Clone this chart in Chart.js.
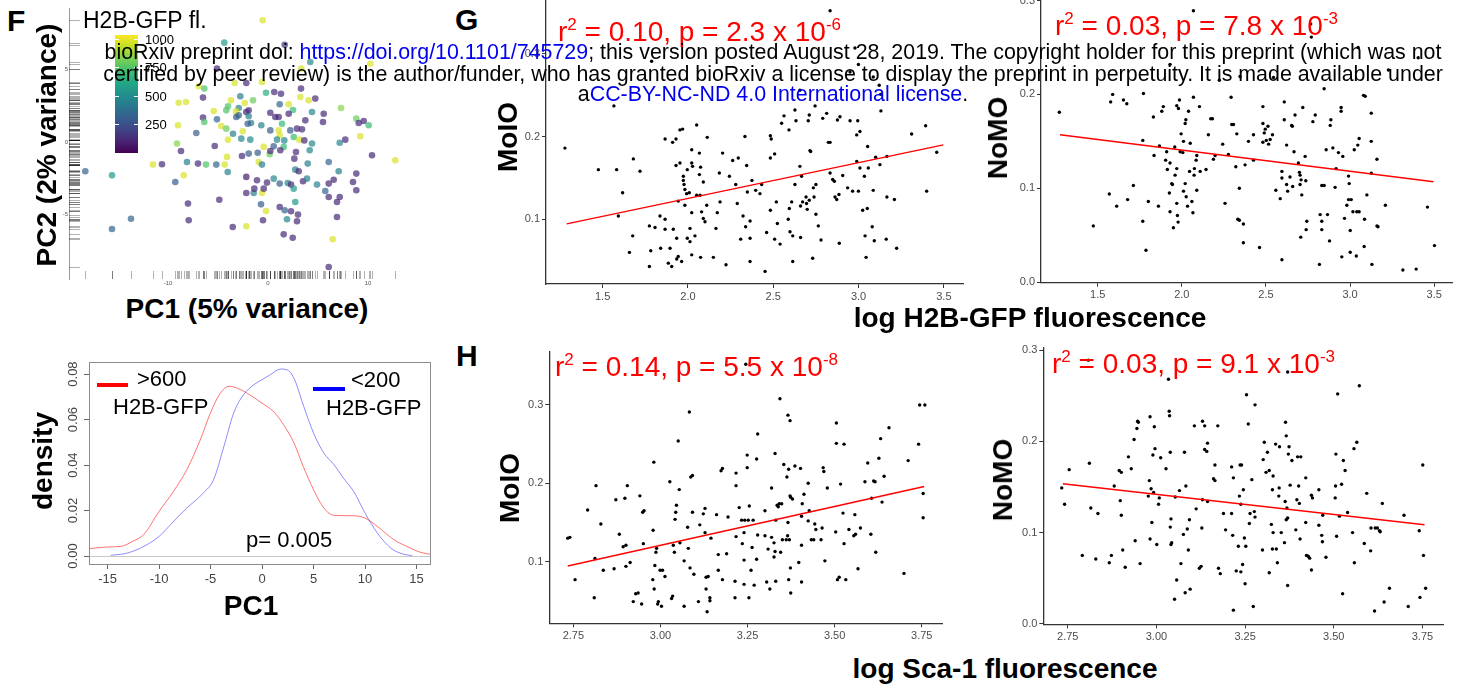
<!DOCTYPE html>
<html>
<head>
<meta charset="utf-8">
<script src="https://cdn.jsdelivr.net/npm/chart.js@4.4.0/dist/chart.umd.min.js"></script>
<style>
body { margin: 0; width: 1465px; height: 688px; background: #fff; position: relative; overflow: hidden;
       font-family: "Liberation Sans", Arial, sans-serif; }
.t { position: absolute; white-space: nowrap; line-height: 1; z-index: 2; color: #000; }
.b { font-weight: bold; }
.mid { transform: translate(-50%, -50%); }
.rot { transform: translate(-50%, -50%) rotate(-90deg); }
.red { color: #ff0000; font-size: 28px; }
.red span { font-size: 17px; vertical-align: 11px; }
.blue { color: #0000ee; }
.leg { position: absolute; height: 4px; z-index: 2; }
</style>
</head>
<body>

<!-- panel letters -->
<div class="t b" style="left:7px;top:6px;font-size:30px">F</div>
<div class="t b" style="left:455px;top:5px;font-size:30px">G</div>
<div class="t b" style="left:456px;top:341px;font-size:30px">H</div>

<!-- F: PCA -->
<div class="t" style="left:83px;top:9px;font-size:23px">H2B-GFP fl.</div>
<div id="colorbar" style="position:absolute;left:115px;top:35px;width:23px;height:118px;z-index:1"></div>
<div class="t b rot" style="left:47px;top:145px;font-size:28px">PC2 (2% variance)</div>
<div class="t b mid" style="left:247px;top:309px;font-size:28px">PC1 (5% variance)</div>

<!-- F: density -->
<div class="leg" style="left:97px;top:383px;width:31px;background:#ff0000"></div>
<div class="t" style="left:137px;top:368px;font-size:22px">&gt;600</div>
<div class="t" style="left:113px;top:396px;font-size:22px">H2B-GFP</div>
<div class="leg" style="left:313px;top:387px;width:32px;background:#0000ff"></div>
<div class="t" style="left:351px;top:369px;font-size:22px">&lt;200</div>
<div class="t" style="left:326px;top:397px;font-size:22px">H2B-GFP</div>
<div class="t" style="left:246px;top:529px;font-size:22px">p= 0.005</div>
<div class="t b rot" style="left:43px;top:461px;font-size:28px">density</div>
<div class="t b mid" style="left:251px;top:606px;font-size:28px">PC1</div>

<!-- G / H titles -->
<div class="t red" style="left:558px;top:16px">r<span>2</span> = 0.10, p = 2.3 x 10<span>-6</span></div>
<div class="t red" style="left:1055px;top:10px">r<span>2</span> = 0.03, p = 7.8 x 10<span>-3</span></div>
<div class="t red" style="left:555px;top:351px">r<span>2</span> = 0.14, p = 5.5 x 10<span>-8</span></div>
<div class="t red" style="left:1052px;top:348px">r<span>2</span> = 0.03, p = 9.1 x 10<span>-3</span></div>
<div class="t b rot" style="left:508px;top:137px;font-size:28px">MoIO</div>
<div class="t b rot" style="left:998px;top:138px;font-size:28px">NoMO</div>
<div class="t b rot" style="left:510px;top:488px;font-size:28px">MoIO</div>
<div class="t b rot" style="left:1003px;top:480px;font-size:28px">NoMO</div>
<div class="t b mid" style="left:1030px;top:318px;font-size:28px">log H2B-GFP fluorescence</div>
<div class="t b mid" style="left:1005px;top:669px;font-size:28px">log Sca-1 fluorescence</div>

<!-- preprint stamp -->
<div class="t hdr" data-base="60">bioRxiv preprint doi: <span class="blue">https://doi.org/10.1101/745729</span>; this version posted August 28, 2019. The copyright holder for this preprint (which was not</div>
<div class="t hdr" data-base="82">certified by peer review) is the author/funder, who has granted bioRxiv a license to display the preprint in perpetuity. It is made available under</div>
<div class="t hdr" data-base="102">a<span class="blue">CC-BY-NC-ND 4.0 International license</span>.</div>

<script>
// --- datos ---

// PCA: [PC1, PC2, H2B-GFP fl.]
const pcaPoints = [
  [-0.53,8.39,980],[-4.37,6.85,560],[1.67,6.71,150],[4.23,5.52,480],[10.23,5.40,980],[-5.1,5.06,120],
  [3.33,5.06,980],[-0.6,4.14,980],[-3.33,4.07,980],[-2.17,4.07,120],[0.63,3.45,120],[1.3,3.33,120],
  [-0.2,3.40,650],[-6.93,3.84,980],[-6.37,3.68,750],[-6.5,3.06,120],[3.3,3.68,120],[3.23,3.10,980],
  [4.07,2.87,980],[4.73,2.99,120],[-2.77,3.15,450],[-3.7,2.87,980],[-1.5,2.87,800],[-2.33,2.69,980],
  [2.07,2.60,980],[1.17,2.60,330],[-8.93,2.71,980],[-8.2,2.76,980],[-5.43,2.14,980],[-4.0,2.46,750],
  [-4.17,2.18,750],[-2.93,2.34,450],[-1.93,2.18,120],[-2.17,2.07,120],[-3.2,2.11,980],[2.5,2.21,700],
  [4.4,2.07,480],[7.3,2.34,850],[-6.5,1.68,120],[-6.37,1.38,750],[-5.1,1.56,330],[-3.17,1.72,300],
  [-2.93,1.84,300],[-1.93,1.77,450],[0.23,2.02,120],[0.73,1.72,120],[1.07,1.72,120],[2.07,1.95,120],
  [5.57,1.95,120],[3.73,1.49,120],[5.5,1.38,120],[8.83,1.61,800],[9.07,1.31,120],[9.57,1.45,120],
  [10.07,1.15,700],[9.23,0.39,980],[-9.0,1.15,980],[-4.67,1.10,980],[-4.17,0.92,800],[-3.5,0.57,450],
  [-2.53,0.74,980],[-1.7,1.31,450],[-2.03,1.26,300],[-0.67,1.15,450],[1.4,1.26,700],[-7.17,0.62,300],
  [0.23,0.80,300],[1.07,0.80,980],[1.17,0.46,980],[2.23,0.80,300],[2.9,0.92,120],[3.4,0.87,120],
  [2.57,0.34,700],[3.13,0.16,980],[3.63,0.11,120],[1.63,0.11,480],[0.9,0.16,480],[-2.67,0.23,480],
  [-4.0,0.16,980],[-1.77,0.16,480],[-9.1,-0.11,850],[-8.7,-0.62,120],[-5.33,-0.28,120],[-0.43,-0.34,980],
  [0.57,-0.30,300],[1.57,-0.34,700],[1.23,-0.57,120],[0.17,-0.85,800],[0.23,-0.62,120],[4.4,-0.11,480],
  [4.17,-0.57,480],[2.8,-0.69,120],[7.17,-0.05,480],[7.73,0.16,120],[10.4,-0.92,120],[12.73,-1.26,980],
  [-2.6,-0.97,120],[-1.93,-0.80,300],[-1.03,-0.74,300],[-4.1,-1.03,980],[2.63,-1.15,120],[-11.5,-1.56,980],
  [-10.6,-1.54,120],[-8.1,-1.38,450],[-7.0,-1.49,120],[-6.2,-1.56,750],[-5.17,-1.56,330],[-4.33,-1.56,980],
  [-4.03,-2.07,450],[-0.93,-1.38,980],[-0.6,-1.56,450],[3.97,-1.49,450],[6.07,-1.38,330],[-18.27,-2.02,330],
  [-15.6,-2.30,560],[-8.43,-2.30,980],[-9.27,-2.76,300],[-2.17,-2.41,80],[-1.1,-2.64,120],[-0.1,-2.80,120],
  [0.57,-2.53,480],[1.17,-2.87,300],[1.97,-2.83,480],[2.3,-2.94,120],[2.73,-1.91,450],[3.07,-2.02,120],
  [3.5,-2.71,120],[3.9,-2.53,450],[4.9,-2.94,450],[6.07,-2.87,120],[6.57,-2.60,120],[7.07,-2.02,450],
  [8.5,-2.76,120],[8.83,-2.18,120],[8.83,-3.33,120],[5.73,-3.38,330],[6.07,-3.79,120],[7.17,-3.79,120],
  [6.9,-4.14,120],[-2.17,-3.52,120],[-1.43,-3.52,450],[-1.37,-3.22,120],[-0.6,-3.52,980],[-0.43,-3.22,120],
  [2.57,-3.22,560],[-8.0,-4.25,120],[-4.87,-3.98,120],[-0.7,-4.30,300],[1.17,-4.48,120],[1.67,-4.71,330],
  [2.73,-4.14,560],[2.3,-4.78,120],[3.0,-5.01,120],[2.9,-5.47,120],[1.9,-5.33,480],[-0.2,-4.76,980],
  [-0.5,-5.40,120],[-7.93,-5.40,120],[-13.7,-5.29,330],[-15.6,-6.0,330],[-3.53,-5.86,120],[-2.17,-5.82,980],
  [1.57,-6.37,120],[2.47,-6.60,120],[6.9,-5.17,120],[6.47,-6.71,980],[6.07,-8.62,120]
];
const pcaXTicks = [-10, 0, 10];
const pcaYTicks = [-5, 0, 5];
const flMax = 1040;
const flTicks = [250, 500, 750, 1000];

// densidad de PC1
const densHigh = [
  [-16.8,0.0032],[-15,0.004],[-13.75,0.0042],[-12.5,0.0066],[-11.5,0.0094],[-10,0.0196],[-8.6,0.0284],
  [-7.3,0.038],[-6,0.051],[-5,0.063],[-4.05,0.0716],[-3.2,0.0746],[-2.4,0.0738],[-1.45,0.0716],[0,0.0672],
  [1.1,0.0636],[2.1,0.0577],[3.1,0.0497],[4,0.0394],[5,0.0292],[6,0.0211],[7,0.0179],[8.9,0.0177],
  [10,0.0167],[11.2,0.013],[12.8,0.0072],[14.4,0.0035],[15.4,0.0016],[16.3,0.0008]
];
const densLow = [
  [-14.7,0.0003],[-13.1,0.0013],[-11.5,0.0042],[-10,0.0086],[-8.6,0.0152],[-7.3,0.0211],[-5.7,0.0277],
  [-4.7,0.0336],[-3.7,0.0482],[-2.75,0.0629],[-1.8,0.0709],[-0.8,0.0753],[0,0.0775],[0.8,0.0797],
  [1.8,0.0822],[2.4,0.0819],[3.1,0.0782],[4.05,0.0658],[5,0.0541],[6,0.0453],[7,0.0401],[7.9,0.0343],
  [8.9,0.0284],[10,0.0189],[11.2,0.0101],[12.5,0.0035],[13.4,0.0013],[14.6,0.0001]
];
const densXTicks = [-15, -10, -5, 0, 5, 10, 15];
const densYTicks = [0, 0.02, 0.04, 0.06, 0.08];

// G: log H2B-GFP vs MoIO / NoMO
const gfpMoIO = [
  [1.279,0.186],[1.475,0.160],[1.582,0.160],[1.617,0.132],[1.592,0.104],[1.680,0.173],[1.719,0.158],[1.676,0.080],
  [1.657,0.060],[1.566,0.237],[1.774,0.092],[1.807,0.090],[1.782,0.062],[1.774,0.043],[1.836,0.104],[1.866,0.100],
  [1.866,0.088],[1.840,0.065],[1.866,0.197],[1.895,0.065],[1.885,0.047],[1.905,0.043],[1.914,0.088],[1.910,0.193],
  [1.930,0.197],[1.930,0.165],[1.934,0.077],[1.934,0.052],[1.953,0.208],[1.969,0.209],[1.953,0.168],[1.943,0.122],
  [1.943,0.055],[1.963,0.049],[1.973,0.152],[1.973,0.147],[1.977,0.142],[1.982,0.136],[1.982,0.117],[1.992,0.131],
  [1.996,0.160],[2.008,0.132],[2.012,0.089],[1.996,0.077],[2.012,0.073],[2.022,0.184],[2.022,0.168],[2.027,0.164],
  [2.022,0.108],[2.022,0.057],[2.041,0.080],[2.051,0.214],[2.051,0.129],[2.067,0.180],[2.067,0.154],[2.071,0.129],
  [2.074,0.054],[2.074,0.163],[2.080,0.109],[2.090,0.145],[2.090,0.101],[2.100,0.097],[2.110,0.117],[2.113,0.199],
  [2.149,0.054],[2.164,0.089],[2.172,0.108],[2.184,0.156],[2.188,0.121],[2.203,0.180],[2.223,0.045],[2.243,0.152],
  [2.262,0.171],[2.280,0.142],[2.295,0.174],[2.289,0.119],[2.309,0.076],[2.323,0.104],[2.334,0.200],[2.338,0.091],
  [2.344,0.165],[2.348,0.133],[2.364,0.098],[2.364,0.077],[2.364,0.049],[2.375,0.147],[2.397,0.135],[2.422,0.131],
  [2.432,0.142],[2.452,0.037],[2.461,0.084],[2.483,0.201],[2.483,0.174],[2.488,0.197],[2.483,0.111],[2.508,0.179],
  [2.508,0.076],[2.518,0.121],[2.524,0.095],[2.540,0.070],[2.549,0.216],[2.563,0.225],[2.588,0.100],[2.592,0.208],
  [2.594,0.113],[2.598,0.085],[2.608,0.121],[2.614,0.080],[2.614,0.049],[2.627,0.232],[2.627,0.142],[2.633,0.219],
  [2.656,0.164],[2.660,0.116],[2.660,0.078],[2.666,0.152],[2.672,0.121],[2.692,0.127],[2.695,0.119],[2.699,0.112],
  [2.705,0.219],[2.711,0.123],[2.711,0.226],[2.715,0.183],[2.719,0.182],[2.731,0.053],[2.735,0.138],[2.739,0.127],
  [2.745,0.237],[2.750,0.142],[2.750,0.106],[2.764,0.092],[2.780,0.075],[2.790,0.222],[2.813,0.228],[2.823,0.193],
  [2.833,0.193],[2.833,0.156],[2.848,0.148],[2.858,0.146],[2.862,0.127],[2.872,0.124],[2.876,0.220],[2.887,0.071],
  [2.891,0.224],[2.885,0.130],[2.907,0.153],[2.936,0.138],[2.950,0.219],[2.965,0.134],[2.989,0.202],[2.989,0.170],
  [2.995,0.219],[2.999,0.134],[3.008,0.206],[3.008,0.162],[3.024,0.111],[3.034,0.152],[3.038,0.080],[3.044,0.054],
  [3.051,0.113],[3.053,0.188],[3.057,0.162],[3.080,0.091],[3.086,0.135],[3.092,0.074],[3.100,0.175],[3.125,0.166],
  [3.131,0.231],[3.162,0.076],[3.166,0.127],[3.166,0.176],[3.210,0.124],[3.223,0.065],[3.311,0.203],[3.393,0.213],
  [3.399,0.134],[3.458,0.181],[2.833,0.352],[1.787,0.291],[2.999,0.287],[3.086,0.272],[3.121,0.262],[3.129,0.251],
  [2.979,0.307],[2.656,0.256],[2.950,0.278]
];
const gfpMoIOFit = [[1.289,0.0944],[3.497,0.190]];

const gfpNoMO = [
  [1.272,0.181],[1.474,0.060],[1.569,0.094],[1.577,0.192],[1.589,0.200],[1.613,0.081],[1.653,0.194],[1.673,0.190],
  [1.678,0.088],[1.712,0.103],[1.768,0.151],[1.772,0.201],[1.768,0.065],[1.787,0.034],[1.801,0.086],[1.831,0.176],
  [1.835,0.135],[1.861,0.081],[1.867,0.145],[1.881,0.182],[1.890,0.187],[1.904,0.130],[1.910,0.139],[1.914,0.120],
  [1.926,0.095],[1.930,0.127],[1.930,0.075],[1.940,0.105],[1.944,0.104],[1.950,0.058],[1.958,0.144],[1.960,0.114],
  [1.970,0.121],[1.970,0.084],[1.970,0.188],[1.974,0.071],[1.978,0.064],[1.980,0.185],[1.986,0.194],[1.990,0.139],
  [1.996,0.158],[2.006,0.138],[2.010,0.097],[2.010,0.150],[2.020,0.105],[2.020,0.169],[2.024,0.173],[2.026,0.091],
  [2.034,0.081],[2.040,0.182],[2.046,0.118],[2.050,0.148],[2.060,0.086],[2.066,0.074],[2.069,0.197],[2.073,0.114],
  [2.075,0.121],[2.085,0.130],[2.089,0.135],[2.089,0.098],[2.105,0.187],[2.109,0.118],[2.144,0.120],[2.158,0.157],
  [2.172,0.174],[2.182,0.174],[2.188,0.131],[2.198,0.135],[2.243,0.147],[2.257,0.084],[2.277,0.136],[2.293,0.197],
  [2.297,0.168],[2.307,0.168],[2.321,0.123],[2.327,0.158],[2.333,0.067],[2.342,0.066],[2.342,0.100],[2.366,0.062],
  [2.366,0.042],[2.376,0.125],[2.396,0.150],[2.426,0.157],[2.426,0.130],[2.462,0.037],[2.482,0.187],[2.482,0.169],
  [2.482,0.149],[2.490,0.159],[2.496,0.163],[2.502,0.151],[2.512,0.166],[2.516,0.147],[2.525,0.152],[2.539,0.157],
  [2.559,0.098],[2.585,0.089],[2.595,0.024],[2.595,0.118],[2.595,0.111],[2.609,0.192],[2.609,0.173],[2.623,0.104],
  [2.623,0.146],[2.629,0.097],[2.643,0.112],[2.653,0.167],[2.657,0.166],[2.659,0.102],[2.667,0.139],[2.673,0.178],
  [2.693,0.127],[2.699,0.117],[2.703,0.114],[2.703,0.104],[2.707,0.048],[2.709,0.109],[2.713,0.093],[2.719,0.186],
  [2.733,0.134],[2.737,0.108],[2.739,0.056],[2.743,0.065],[2.779,0.171],[2.793,0.178],[2.818,0.019],[2.822,0.072],
  [2.832,0.065],[2.832,0.056],[2.832,0.103],[2.846,0.103],[2.846,0.206],[2.858,0.141],[2.866,0.072],[2.878,0.044],
  [2.882,0.167],[2.886,0.173],[2.898,0.143],[2.911,0.101],[2.917,0.121],[2.931,0.138],[2.947,0.186],[2.947,0.182],
  [2.951,0.027],[2.957,0.134],[2.967,0.068],[2.981,0.082],[2.991,0.088],[2.991,0.113],[2.995,0.105],[3.001,0.055],
  [3.001,0.032],[3.007,0.088],[3.017,0.075],[3.025,0.141],[3.037,0.028],[3.040,0.075],[3.046,0.146],[3.054,0.153],
  [3.054,0.075],[3.080,0.199],[3.086,0.067],[3.090,0.198],[3.084,0.038],[3.100,0.093],[3.126,0.180],[3.126,0.150],
  [3.126,0.116],[3.130,0.019],[3.160,0.131],[3.160,0.060],[3.166,0.059],[3.210,0.082],[3.314,0.013],[3.393,0.014],
  [3.460,0.080],[3.502,0.039],[2.069,0.289],[2.766,0.275],[2.770,0.261],[3.048,0.250],[3.405,0.239],[1.930,0.232],
  [3.228,0.226],[2.346,0.219],[2.545,0.218],[2.223,0.215]
];
const gfpNoMOFit = [[1.276,0.157],[3.496,0.107]];
const gfpTicks = [1.5, 2.0, 2.5, 3.0, 3.5];

// H: log Sca-1 vs MoIO / NoMO
const scaMoIO = [
  [2.734,0.130],[2.740,0.131],[2.755,0.077],[2.791,0.166],[2.810,0.054],[2.812,0.104],[2.815,0.197],[2.829,0.148],
  [2.836,0.089],[2.867,0.091],[2.872,0.179],[2.882,0.135],[2.893,0.119],[2.898,0.181],[2.901,0.094],[2.901,0.121],
  [2.905,0.197],[2.913,0.099],[2.922,0.049],[2.929,0.059],[2.936,0.060],[2.941,0.184],[2.946,0.046],[2.949,0.163],
  [2.951,0.123],[2.953,0.165],[2.978,0.077],[2.979,0.140],[2.981,0.227],[2.982,0.065],[2.984,0.095],[2.987,0.112],
  [2.989,0.117],[2.992,0.046],[2.994,0.049],[2.999,0.089],[3.003,0.043],[3.006,0.089],[3.013,0.081],[3.027,0.202],
  [3.032,0.053],[3.035,0.056],[3.037,0.121],[3.040,0.112],[3.042,0.154],[3.044,0.163],[3.046,0.172],[3.051,0.254],
  [3.054,0.192],[3.056,0.124],[3.068,0.043],[3.068,0.101],[3.078,0.144],[3.080,0.117],[3.083,0.291],[3.085,0.092],
  [3.087,0.208],[3.092,0.210],[3.092,0.163],[3.096,0.084],[3.109,0.049],[3.113,0.147],[3.123,0.161],[3.128,0.137],
  [3.128,0.168],[3.131,0.065],[3.131,0.080],[3.134,0.036],[3.137,0.081],[3.142,0.054],[3.142,0.050],[3.145,0.130],
  [3.161,0.160],[3.166,0.109],[3.166,0.089],[3.174,0.216],[3.178,0.219],[3.178,0.077],[3.190,0.110],[3.194,0.157],
  [3.214,0.075],[3.214,0.054],[3.217,0.213],[3.217,0.197],[3.217,0.132],[3.226,0.169],[3.233,0.153],[3.235,0.123],
  [3.240,0.137],[3.240,0.102],[3.240,0.071],[3.242,0.153],[3.249,0.236],[3.249,0.220],[3.252,0.153],[3.254,0.054],
  [3.255,0.171],[3.260,0.089],[3.263,0.118],[3.266,0.153],[3.269,0.070],[3.276,0.103],[3.276,0.231],[3.279,0.263],
  [3.279,0.134],[3.300,0.165],[3.300,0.133],[3.305,0.074],[3.309,0.116],[3.314,0.065],[3.319,0.194],[3.319,0.131],
  [3.326,0.124],[3.326,0.106],[3.329,0.238],[3.329,0.113],[3.331,0.153],[3.331,0.075],[3.335,0.172],[3.338,0.170],
  [3.341,0.174],[3.343,0.308],[3.345,0.112],[3.348,0.174],[3.350,0.128],[3.354,0.224],[3.361,0.128],[3.363,0.208],
  [3.365,0.133],[3.366,0.287],[3.366,0.150],[3.368,0.218],[3.368,0.077],[3.370,0.128],[3.372,0.184],[3.372,0.280],
  [3.373,0.092],[3.374,0.060],[3.374,0.182],[3.379,0.180],[3.386,0.222],[3.397,0.099],[3.402,0.219],[3.405,0.158],
  [3.405,0.121],[3.405,0.074],[3.407,0.174],[3.412,0.186],[3.424,0.200],[3.424,0.152],[3.427,0.165],[3.433,0.128],
  [3.440,0.128],[3.443,0.148],[3.446,0.141],[3.461,0.128],[3.464,0.143],[3.467,0.220],[3.469,0.215],[3.472,0.101],
  [3.479,0.194],[3.503,0.138],[3.505,0.277],[3.505,0.251],[3.508,0.077],[3.513,0.080],[3.517,0.199],[3.524,0.162],
  [3.527,0.250],[3.527,0.123],[3.532,0.077],[3.541,0.141],[3.555,0.133],[3.558,0.160],[3.560,0.135],[3.567,0.091],
  [3.574,0.143],[3.587,0.202],[3.595,0.226],[3.604,0.135],[3.606,0.181],[3.612,0.203],[3.616,0.202],[3.618,0.112],
  [3.627,0.232],[3.632,0.257],[3.636,0.176],[3.642,0.209],[3.656,0.271],[3.699,0.085],[3.711,0.229],[3.741,0.250],
  [3.744,0.300],[3.754,0.187],[3.754,0.156],[3.759,0.300],[3.245,0.352]
];
const scaMoIOFit = [[2.734,0.0945],[3.757,0.196]];

const scaNoMO = [
  [2.733,0.149],[2.741,0.131],[2.754,0.169],[2.791,0.075],[2.811,0.176],[2.815,0.127],[2.829,0.071],[2.835,0.121],
  [2.867,0.067],[2.873,0.075],[2.881,0.151],[2.895,0.168],[2.898,0.135],[2.901,0.166],[2.901,0.119],[2.905,0.081],
  [2.912,0.062],[2.921,0.183],[2.929,0.170],[2.937,0.202],[2.940,0.091],[2.945,0.214],[2.947,0.222],[2.949,0.221],
  [2.954,0.066],[2.977,0.140],[2.980,0.157],[2.982,0.227],[2.982,0.093],[2.985,0.148],[2.987,0.111],[2.990,0.185],
  [2.992,0.144],[2.994,0.216],[2.996,0.192],[3.001,0.087],[3.006,0.131],[3.008,0.138],[3.012,0.182],[3.027,0.170],
  [3.034,0.268],[3.036,0.233],[3.037,0.228],[3.039,0.106],[3.039,0.188],[3.041,0.115],[3.041,0.087],[3.043,0.089],
  [3.051,0.027],[3.053,0.139],[3.057,0.048],[3.065,0.146],[3.069,0.066],[3.076,0.098],[3.079,0.188],[3.081,0.034],
  [3.083,0.151],[3.087,0.104],[3.090,0.081],[3.093,0.114],[3.095,0.038],[3.107,0.217],[3.112,0.126],[3.121,0.061],
  [3.126,0.063],[3.128,0.105],[3.130,0.222],[3.130,0.136],[3.136,0.217],[3.136,0.191],[3.142,0.189],[3.144,0.198],
  [3.144,0.134],[3.161,0.159],[3.165,0.174],[3.165,0.157],[3.173,0.217],[3.175,0.061],[3.180,0.055],[3.189,0.121],
  [3.195,0.103],[3.212,0.172],[3.212,0.121],[3.215,0.097],[3.217,0.160],[3.217,0.015],[3.225,0.058],[3.231,0.085],
  [3.234,0.140],[3.236,0.174],[3.238,0.057],[3.238,0.131],[3.240,0.174],[3.243,0.065],[3.245,0.147],[3.248,0.094],
  [3.250,0.044],[3.252,0.085],[3.254,0.251],[3.259,0.219],[3.262,0.110],[3.264,0.121],[3.269,0.158],[3.273,0.019],
  [3.276,0.123],[3.278,0.240],[3.278,0.117],[3.299,0.081],[3.301,0.180],[3.304,0.199],[3.309,0.166],[3.313,0.188],
  [3.318,0.168],[3.318,0.056],[3.324,0.109],[3.327,0.147],[3.327,0.082],[3.329,0.162],[3.329,0.100],[3.336,0.197],
  [3.338,0.082],[3.341,0.067],[3.345,0.140],[3.346,0.149],[3.347,0.194],[3.352,0.100],[3.361,0.089],[3.363,0.134],
  [3.364,0.221],[3.366,0.206],[3.366,0.114],[3.368,0.127],[3.370,0.116],[3.370,0.276],[3.370,0.042],[3.372,0.186],
  [3.374,0.194],[3.377,0.152],[3.382,0.179],[3.393,0.103],[3.396,0.136],[3.398,0.183],[3.401,0.151],[3.403,0.132],
  [3.405,0.093],[3.407,0.183],[3.421,0.160],[3.421,0.111],[3.423,0.075],[3.428,0.074],[3.432,0.072],[3.437,0.059],
  [3.437,0.141],[3.440,0.138],[3.458,0.147],[3.458,0.108],[3.466,0.097],[3.469,0.119],[3.468,0.090],[3.478,0.073],
  [3.504,0.138],[3.505,0.151],[3.506,0.186],[3.508,0.096],[3.511,0.252],[3.516,0.118],[3.522,0.153],[3.525,0.033],
  [3.527,0.179],[3.532,0.168],[3.539,0.122],[3.553,0.100],[3.557,0.192],[3.558,0.067],[3.565,0.199],[3.572,0.261],
  [3.586,0.088],[3.593,0.143],[3.604,0.080],[3.605,0.105],[3.615,0.014],[3.617,0.105],[3.623,0.105],[3.629,0.102],
  [3.631,0.101],[3.637,0.132],[3.642,0.024],[3.657,0.039],[3.698,0.119],[3.710,0.019],[3.741,0.102],[3.743,0.029],
  [3.751,0.174],[3.753,0.075],[3.759,0.039],[2.808,0.289]
];
const scaNoMOFit = [[2.736,0.1535],[3.756,0.1086]];
const scaTicks = [2.75, 3.00, 3.25, 3.50, 3.75];
const fracTicks = [0.0, 0.1, 0.2, 0.3];

// --- utilidades ---
Chart.defaults.font.family = '"Liberation Sans", Arial, sans-serif';

const viridisStops = ['#440154','#482475','#414487','#355f8d','#2a788e','#21918c','#22a884','#44bf70','#7ad151','#bddf26','#fde725'];
function hexRgb(h) { return [1, 3, 5].map(i => parseInt(h.substr(i, 2), 16)); }
function viridis(v, a) {
    const t = Math.max(0, Math.min(1, v / flMax)) * 10;
    const i = Math.min(9, Math.floor(t)), f = t - i;
    const c0 = hexRgb(viridisStops[i]), c1 = hexRgb(viridisStops[i + 1]);
    const c = c0.map((c, k) => Math.round(c + (c1[k] - c) * f));
    return `rgba(${c[0]},${c[1]},${c[2]},${a})`;
}

function makeCanvas(box) {
    const cv = document.createElement('canvas');
    cv.width = box[2]; cv.height = box[3];
    cv.style.cssText = `position:absolute;left:${box[0]}px;top:${box[1]}px;width:${box[2]}px;height:${box[3]}px;z-index:1`;
    document.body.appendChild(cv);
    return cv;
}

// box = canvas [left, top, w, h]; area = plot area [x0, y0, x1, y1] in page px
function baseOptions(box, area, scales) {
    const yw = area[0] - box[0];
    const xh = box[1] + box[3] - area[3];
    scales.x.afterFit = s => { s.height = xh; };
    scales.y.afterFit = s => { s.width = yw; };
    return {
        responsive: false, animation: false, events: [],
        layout: { padding: { left: 0, bottom: 0, top: area[1] - box[1], right: box[0] + box[2] - area[2] } },
        plugins: { legend: { display: false }, tooltip: { enabled: false } },
        scales
    };
}

function ggAxis(min, max, ticks, fmt) {
    return {
        type: 'linear', min, max,
        afterBuildTicks: s => { s.ticks = ticks.filter(v => v >= min && v <= max).map(v => ({ value: v })); },
        ticks: { callback: v => fmt(v), color: '#4d4d4d', font: { size: 11 }, padding: 2 },
        grid: { drawOnChartArea: false, tickLength: 4, color: '#333' },
        border: { color: '#333', width: 1.3 }
    };
}

function scatterPanel(box, area, pts, fit, xr, yr, xTicks, xDec) {
    new Chart(makeCanvas(box), {
        type: 'scatter',
        data: { datasets: [
            { data: fit.map(p => ({ x: p[0], y: p[1] })), showLine: true, borderColor: '#ff0000', borderWidth: 1.4, pointRadius: 0 },
            { data: pts.map(p => ({ x: p[0], y: p[1] })), backgroundColor: '#000', pointRadius: 1.7, borderWidth: 0 }
        ]},
        options: baseOptions(box, area, {
            x: ggAxis(xr[0], xr[1], xTicks, v => v.toFixed(xDec)),
            y: ggAxis(yr[0], yr[1], fracTicks, v => v.toFixed(1))
        })
    });
}

// --- G y H ---
scatterPanel([496, -20, 487, 326], [546, 0, 963, 284], gfpMoIO, gfpMoIOFit, [1.168, 3.612], [0.0218, 0.365], gfpTicks, 1);
scatterPanel([990, -20, 475, 325], [1041, 0, 1452, 282.7], gfpNoMO, gfpNoMOFit, [1.163, 3.606], [-0.0005, 0.3005], gfpTicks, 1);
scatterPanel([499, 330, 463, 315], [549.3, 351.7, 942.3, 623.3], scaMoIO, scaMoIOFit, [2.681, 3.809], [0.0213, 0.368], scaTicks, 2);
scatterPanel([993, 328, 470, 318], [1043.3, 348, 1443, 624.3], scaNoMO, scaNoMOFit, [2.681, 3.808], [-0.0005, 0.3023], scaTicks, 2);

// --- F: PCA ---
const rugPlugin = {
    id: 'rug',
    beforeDatasetsDraw(chart) {
        const { ctx, chartArea: a, scales: { x, y } } = chart;
        ctx.save();
        ctx.strokeStyle = 'rgba(0,0,0,0.3)';
        ctx.lineWidth = 1;
        pcaPoints.forEach(p => {
            const px = Math.round(x.getPixelForValue(p[0])) + 0.5;
            ctx.beginPath(); ctx.moveTo(px, a.bottom); ctx.lineTo(px, a.bottom - 8); ctx.stroke();
            const py = Math.round(y.getPixelForValue(p[1])) + 0.5;
            ctx.beginPath(); ctx.moveTo(a.left, py); ctx.lineTo(a.left + 11, py); ctx.stroke();
        });
        ctx.restore();
    }
};
const pcaBox = [50, -10, 360, 300], pcaArea = [69, 8, 400, 279];
const pcaX = ggAxis(-19.9, 13.2, pcaXTicks, v => String(v));
const pcaY = ggAxis(-9.45, 9.24, pcaYTicks, v => String(v));
[pcaX, pcaY].forEach(s => {
    s.ticks = { callback: v => String(v), color: '#555', font: { size: 6 }, padding: 1 };
    s.grid = { drawOnChartArea: false, tickLength: 0, color: '#999' };
});
pcaX.border = { display: false };
pcaY.border = { color: '#999', width: 1 };
new Chart(makeCanvas(pcaBox), {
    type: 'scatter',
    data: { datasets: [{
        data: pcaPoints.map(p => ({ x: p[0], y: p[1] })),
        backgroundColor: pcaPoints.map(p => viridis(p[2], 0.7)),
        pointRadius: 3.3, borderWidth: 0
    }]},
    options: baseOptions(pcaBox, pcaArea, { x: pcaX, y: pcaY }),
    plugins: [rugPlugin]
});

// barra de color
const cb = document.getElementById('colorbar');
cb.style.background = 'linear-gradient(to top,' + viridisStops.join(',') + ')';
flTicks.forEach(v => {
    const y = 35 + 118 - v / flMax * 118;
    ['115px', '134px'].forEach(l => {
        const m = document.createElement('div');
        m.style.cssText = `position:absolute;left:${l};top:${y - 0.5}px;width:4px;height:1px;background:#fff;z-index:1`;
        document.body.appendChild(m);
    });
    const lab = document.createElement('div');
    lab.className = 't';
    lab.style.cssText = `left:145px;top:${y - 6.5}px;font-size:13px;z-index:1`;
    lab.textContent = v;
    document.body.appendChild(lab);
});

// --- F: densidad ---
const rLabelsPlugin = {
    id: 'rlabels',
    afterDraw(chart) {
        const { ctx, chartArea: a, scales: { y } } = chart;
        ctx.save();
        ctx.fillStyle = '#444';
        ctx.font = '13px "Liberation Sans", Arial, sans-serif';
        ctx.textAlign = 'center';
        ctx.textBaseline = 'middle';
        y.ticks.forEach(t => {
            ctx.save();
            ctx.translate(a.left - 16, y.getPixelForValue(t.value));
            ctx.rotate(-Math.PI / 2);
            ctx.fillText(t.value.toFixed(2), 0, 0);
            ctx.restore();
        });
        ctx.restore();
    }
};
const boxGray = '#8c8c8c';
const densBox = [55, 340, 395, 260], densArea = [89, 362, 430, 564];
const densX = ggAxis(-16.8, 16.31, densXTicks, v => String(v));
densX.ticks = { callback: v => String(v), color: '#444', font: { size: 13 }, padding: 3 };
densX.grid = { drawOnChartArea: false, tickLength: 5, color: '#666' };
densX.border = { display: false };
const densY = ggAxis(-0.0035, 0.0853, densYTicks, v => v.toFixed(2));
densY.ticks = { display: false };
densY.grid = {
    drawOnChartArea: true, tickLength: 5,
    color: c => (c.tick && c.tick.value === 0) ? '#c8c8c8' : 'rgba(0,0,0,0)',
    tickColor: '#666'
};
densY.border = { display: false };
new Chart(makeCanvas(densBox), {
    type: 'line',
    data: { datasets: [
        { data: densHigh.map(p => ({ x: p[0], y: p[1] })), borderColor: 'rgba(255,0,0,0.55)', borderWidth: 1, pointRadius: 0, cubicInterpolationMode: 'monotone' },
        { data: densLow.map(p => ({ x: p[0], y: p[1] })), borderColor: 'rgba(0,0,255,0.45)', borderWidth: 1, pointRadius: 0, cubicInterpolationMode: 'monotone' }
    ]},
    options: baseOptions(densBox, densArea, { x: densX, y: densY }),
    plugins: [rLabelsPlugin]
});
// marco (caja de R) alrededor del area del grafico
const frame = document.createElement('div');
frame.style.cssText = `position:absolute;left:${densArea[0]}px;top:${densArea[1]}px;` +
    `width:${densArea[2] - densArea[0] - 1}px;height:${densArea[3] - densArea[1] - 1}px;` +
    `border:1px solid ${boxGray};z-index:3;pointer-events:none`;
document.body.appendChild(frame);

// --- sello del preprint: ajustar tamaño al ancho original ---
const hdr = document.querySelectorAll('.hdr');
hdr.forEach(el => { el.style.fontSize = '19px'; });
const w0 = hdr[0].getBoundingClientRect().width;
const fs = 19 * 1338 / w0;
hdr.forEach(el => {
    el.style.fontSize = fs + 'px';
    el.style.left = '773px';
    el.style.transform = 'translateX(-50%)';
    el.style.top = (parseFloat(el.dataset.base) - 0.8305 * fs) + 'px';
});
</script>
</body>
</html>
